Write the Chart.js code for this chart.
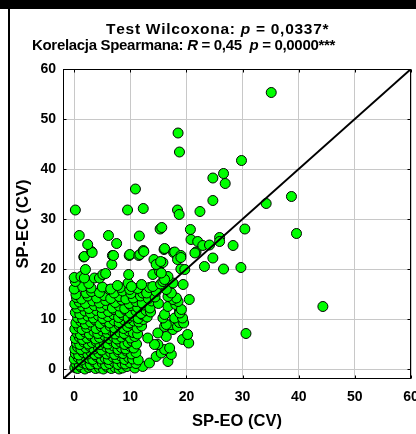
<!DOCTYPE html>
<html lang="pl">
<head>
<meta charset="utf-8">
<title>SP-EO / SP-EC</title>
<script src="https://cdn.jsdelivr.net/npm/chart.js@4.4.1/dist/chart.umd.min.js"></script>
<style>
  html, body { margin: 0; padding: 0; overflow: hidden; background: #fff; }
  #ramka { position: absolute; left: 0; top: 0; width: 416px; height: 434px; overflow: hidden; background: #fff; }
  #pasek { position: absolute; left: 0; top: 0; width: 416px; height: 9px; background: #000; }
  #krawedz { position: absolute; left: 8px; top: 0; width: 2px; height: 434px; background: #000; }
  #wykres { position: absolute; left: 10px; top: 9px; }
</style>
</head>
<body>
<div id="ramka">
  <div id="pasek"></div>
  <div id="krawedz"></div>
  <canvas id="wykres" width="420" height="425"></canvas>
</div>
<script>
// Tytuł (fragmenty: tekst, kursywa)
const tytulLinia1 = [['Test Wilcoxona: ', false], ['p', true], [' = 0,0337*', false]];
const tytulLinia2 = [['Korelacja Spearmana: ', false], ['R', true], [' = 0,45  ', false], ['p', true], [' = 0,0000***', false]];

// Osie
const podzialka = [0, 10, 20, 30, 40, 50, 60];
const zakresOsi = [-2, 60];
const przekatna = [-2, 60];

// Pomiary [SP-EO, SP-EC] - gęste skupisko przy początku układu
const rdzen = [
  [0.1,0.3],[0.6,0.1],[1.2,0.4],[1.9,0.0],[2.6,0.3],[3.1,0.5],[3.8,0.1],[4.5,0.2],[5.2,0.0],[5.9,0.4],[6.6,0.1],[7.3,0.3],[8.0,0.0],[8.6,0.2],[9.4,0.5],[10.8,0.2],[12.2,0.5],[13.4,1.2],
  [0.3,1.1],[0.9,0.8],[1.5,1.3],[2.2,1.0],[2.9,0.9],[3.6,1.4],[4.2,1.0],[5.0,1.2],[5.6,0.8],[6.3,1.1],[7.0,1.5],[7.8,0.9],[8.5,1.2],[9.1,1.0],[9.9,1.3],[11.0,1.1],[14.6,2.5],
  [0.0,2.0],[0.7,2.3],[1.3,1.8],[2.0,2.4],[2.7,2.1],[3.3,1.9],[4.0,2.5],[4.8,2.0],[5.5,2.2],[6.1,1.9],[6.9,2.4],[7.6,2.1],[8.3,2.6],[9.0,1.9],[9.7,2.3],[10.4,2.0],[11.4,1.8],[16.7,1.5],
  [0.2,3.1],[0.8,2.8],[1.6,3.3],[2.4,3.0],[3.0,3.4],[3.7,2.9],[4.4,3.2],[5.1,3.5],[5.8,3.0],[6.5,3.3],[7.2,2.9],[7.9,3.4],[8.7,3.1],[9.3,3.6],[10.2,3.0],[11.0,3.3],[15.5,3.2],[17.3,2.9],
  [0.1,4.0],[0.6,4.4],[1.2,3.9],[2.1,4.2],[2.8,4.5],[3.5,4.0],[4.3,4.3],[4.9,3.8],[5.7,4.4],[6.4,4.1],[7.0,4.6],[7.8,3.9],[8.4,4.3],[9.2,4.0],[10.0,4.5],[10.6,4.2],[16.1,3.9],[17.0,4.2],[14.9,4.9],[14.3,4.9],
  [0.4,5.2],[1.0,4.9],[1.7,5.4],[2.5,5.0],[3.2,5.3],[3.9,5.5],[4.6,4.9],[5.3,5.3],[6.0,5.0],[6.8,5.6],[7.5,5.1],[8.2,5.4],[9.0,4.9],[9.6,5.3],[10.3,5.6],[11.1,5.0],[19.3,5.9],[20.4,5.2],
  [0.2,6.1],[0.9,6.4],[1.5,5.9],[2.3,6.2],[3.0,6.6],[3.8,6.0],[4.5,6.3],[5.4,6.7],[6.2,6.1],[6.9,6.5],[7.6,6.0],[8.4,6.4],[9.2,6.8],[10.0,6.2],[10.8,6.5],[13.1,6.2],[16.4,6.5],[20.2,6.9],
  [0.5,7.2],[1.1,6.9],[1.9,7.4],[2.7,7.0],[3.5,7.5],[4.2,7.1],[5.0,7.6],[5.9,7.2],[6.6,7.7],[7.3,7.0],[8.1,7.4],[8.9,7.1],[9.7,7.6],[10.5,7.3],[11.3,7.0],[14.9,7.2],[17.6,7.9],
  [0.1,8.0],[0.8,8.4],[1.4,7.9],[2.2,8.3],[3.1,8.7],[3.9,8.1],[4.8,8.5],[5.6,8.0],[6.4,8.6],[7.2,8.2],[8.0,8.8],[8.8,8.1],[9.5,8.5],[10.4,8.9],[11.2,8.2],[12.0,8.6],[16.1,8.5],[17.25,8.9],[18.4,8.5],
  [0.3,9.2],[1.2,9.5],[2.0,9.0],[2.9,9.4],[3.7,9.8],[4.6,9.1],[5.5,9.6],[6.3,9.2],[7.1,9.7],[8.0,9.3],[8.9,9.8],[9.8,9.2],[10.6,9.6],[11.5,9.4],[12.3,9.9],[16.4,8.9],[18.75,9.3],[19.5,9.2],
  [0.6,10.3],[1.5,10.0],[2.4,10.6],[3.4,10.2],[4.3,10.7],[5.1,10.1],[6.0,10.5],[7.0,10.9],[7.9,10.3],[8.7,10.8],[9.6,10.2],[10.5,10.6],[11.4,10.1],[12.2,10.8],[13.0,10.4],[15.8,10.2],[17.9,10.2],[19.3,10.2],
  [0.2,11.3],[1.0,11.0],[1.9,11.6],[2.9,11.2],[4.0,11.7],[5.0,11.1],[6.1,11.5],[7.1,11.9],[8.2,11.3],[9.1,11.8],[10.0,11.2],[11.0,11.6],[11.9,11.1],[12.8,11.7],[13.6,11.4],[16.1,10.9],[18.75,11.5],[18.8,11.2],
  [0.5,12.2],[1.4,12.6],[2.6,12.1],[3.6,12.7],[4.8,12.3],[5.8,12.8],[6.8,12.2],[8.0,12.6],[9.0,12.1],[10.1,12.7],[11.3,12.3],[12.4,12.8],[13.5,12.2],[16.7,12.5],[18.1,12.9],[19.1,11.9],
  [0.1,13.0],[0.9,13.4],[2.0,13.1],[3.3,13.6],[4.5,13.2],[5.6,13.7],[7.3,13.3],[8.5,13.8],[9.8,13.1],[11.0,13.5],[12.1,13.2],[13.8,13.6],[15.0,13.1],[18.5,13.5],[20.5,13.9],
  [0.4,14.3],[1.3,14.0],[2.4,14.6],[4.0,14.2],[5.3,14.7],[6.5,14.1],[8.0,14.5],[9.2,14.0],[10.5,14.2],[11.8,14.6],[13.2,14.1],[14.4,14.4],[17.6,13.9],[18.2,14.2],[16.7,14.5]
];

// Środkowy pas (SP-EC ok. 15-24)
const srodek = [
  [0.3,14.9],[2.1,15.2],[3.1,15.5],[4.5,15.3],[6.25,15.9],[7.1,15.2],[8.6,15.6],[10.1,15.1],[12.2,15.2],[12.9,15.2],[14.6,15.5],[17.0,15.5],[17.3,15.2],[16.4,15.9],
  [0.0,16.0],[1.5,16.5],[3.0,16.2],[5.0,16.4],[6.5,16.0],[8.2,16.3],[9.9,15.9],[11.3,16.1],[13.4,16.3],[0.2,17.5],[2.6,17.1],[7.7,16.7],[9.6,17.2],[10.2,16.5],[12.0,16.9],[14.0,16.5],[15.4,17.0],[17.6,17.2],[19.4,16.9],[15.8,17.5],
  [0.0,18.3],[1.2,18.5],[1.8,18.2],[3.6,18.2],[4.5,18.2],[5.1,18.9],[5.6,19.1],[9.7,18.9],[14.0,18.9],[15.2,19.5],[16.7,18.5],[16.1,17.9],[2.0,19.9],[15.5,19.2],[19.0,20.0],[19.7,19.9],
  [1.7,22.4],[1.8,22.5],[3.1,23.5],[3.2,23.3],[2.4,24.9],[6.8,22.7],[6.7,20.9],[7.0,22.7],[9.8,22.7],[9.9,22.9],[11.5,22.7],[11.7,22.9],[12.3,23.7],[12.4,23.5],
  [14.2,21.9],[15.5,21.3],[14.6,20.9],[15.8,21.3],[15.4,21.5],[16.0,23.9],[16.1,24.1],[17.7,23.3],[17.9,23.4],[19.0,22.7],[18.4,21.9],[19.0,22.3],[21.7,23.4],[21.5,23.2]
];

// Punkty rozproszone
const rozproszone = [
  [0.2,31.8],[9.5,31.8],[10.9,36.0],[12.3,32.1],[0.9,26.7],[6.1,26.7],[7.55,25.1],[11.6,26.6],[15.3,28.0],[15.6,28.3],
  [35.1,55.3],[18.5,47.2],[18.75,43.4],[29.8,41.7],[24.7,38.2],[26.6,39.1],[26.9,37.1],[38.7,34.5],[34.2,33.1],[24.7,33.7],
  [18.4,31.8],[18.7,30.9],[22.4,31.5],[30.4,28.0],[39.6,27.1],[20.7,27.9],[20.8,25.9],[22.0,25.5],[22.9,24.7],[24.1,24.8],
  [25.9,26.3],[25.9,25.5],[28.3,24.7],[24.7,22.2],[23.2,20.5],[26.6,20.0],[29.7,20.3],[44.3,12.5],[30.6,7.1]
];

const pomiary = [...rdzen, ...srodek, ...rozproszone].map(([x, y]) => ({ x, y }));

const czcionka = '"Liberation Sans", Arial, sans-serif';

// Tytuł z kursywą dla symboli statystyk; odstęp liter dobierany do szerokości linii
const tytulPlugin = {
  id: 'tytul',
  afterDraw(chart) {
    const ctx = chart.ctx;
    const linie = [
      { fragmenty: tytulLinia1, x: 96, y: 25, rozmiar: 15.5, szerokosc: 222 },
      { fragmenty: tytulLinia2, x: 22, y: 41, rozmiar: 15, szerokosc: 303 }
    ];
    ctx.save();
    ctx.fillStyle = '#000';
    ctx.textBaseline = 'alphabetic';
    linie.forEach(linia => {
      const ustawFont = kursywa => { ctx.font = (kursywa ? 'italic ' : '') + 'bold ' + linia.rozmiar + 'px ' + czcionka; };
      let naturalna = 0, znaki = 0;
      linia.fragmenty.forEach(([tekst, kursywa]) => {
        ustawFont(kursywa);
        naturalna += ctx.measureText(tekst).width;
        znaki += tekst.length;
      });
      const odstep = (linia.szerokosc - naturalna) / znaki;
      let x = linia.x;
      linia.fragmenty.forEach(([tekst, kursywa]) => {
        ustawFont(kursywa);
        for (const znak of tekst) {
          ctx.fillText(znak, x, linia.y);
          x += ctx.measureText(znak).width + odstep;
        }
      });
    });
    ctx.restore();
  }
};

// Ramka obszaru wykresu z krótkimi znacznikami skierowanymi do środka
const ramkaPlugin = {
  id: 'ramka',
  afterDraw(chart) {
    const { left, top, right, bottom } = chart.chartArea;
    const { x: skalaX, y: skalaY } = chart.scales;
    const ctx = chart.ctx;
    const l = Math.round(left) + 0.5, t = Math.round(top) + 0.5;
    const r = Math.round(right) - 0.5, b = Math.round(bottom) - 0.5;
    ctx.save();
    ctx.strokeStyle = '#000';
    ctx.lineWidth = 1;
    ctx.strokeRect(l, t, r - l, b - t);
    ctx.beginPath();
    podzialka.forEach(v => {
      const px = Math.round(skalaX.getPixelForValue(v)) + 0.5;
      const py = Math.round(skalaY.getPixelForValue(v)) + 0.5;
      ctx.moveTo(px, b); ctx.lineTo(px, b - 3);
      ctx.moveTo(px, t); ctx.lineTo(px, t + 3);
      ctx.moveTo(l, py); ctx.lineTo(l + 3, py);
      ctx.moveTo(r, py); ctx.lineTo(r - 3, py);
    });
    ctx.stroke();
    ctx.restore();
  }
};

const ustawPodzialke = scale => { scale.ticks = podzialka.map(v => ({ value: v })); };

new Chart(document.getElementById('wykres'), {
  type: 'scatter',
  data: {
    datasets: [
      {
        type: 'line',
        data: przekatna.map(v => ({ x: v, y: v })),
        borderColor: '#000',
        borderWidth: 2,
        pointRadius: 0,
        fill: false,
        order: 0
      },
      {
        data: pomiary,
        backgroundColor: '#00ff00',
        borderColor: '#000',
        borderWidth: 1,
        pointRadius: 5,
        order: 1
      }
    ]
  },
  options: {
    responsive: false,
    animation: false,
    layout: { padding: { left: 0, right: 19, top: 60, bottom: 0 } },
    plugins: {
      legend: { display: false },
      tooltip: { enabled: false }
    },
    scales: {
      x: {
        type: 'linear',
        min: zakresOsi[0],
        max: zakresOsi[1],
        afterBuildTicks: ustawPodzialke,
        afterFit: s => { s.height = 55; },
        border: { display: false },
        grid: { color: '#c8c8c8', drawTicks: false },
        ticks: { color: '#000', padding: 10, maxRotation: 0, font: { family: czcionka, size: 14, weight: 'bold' } },
        title: { display: true, text: 'SP-EO (CV)', color: '#000', padding: { top: 0, bottom: 3 }, font: { family: czcionka, size: 16.5, weight: 'bold' } }
      },
      y: {
        type: 'linear',
        min: zakresOsi[0],
        max: zakresOsi[1],
        afterBuildTicks: ustawPodzialke,
        afterFit: s => { s.width = 53; },
        border: { display: false },
        grid: { color: '#c8c8c8', drawTicks: false },
        ticks: { color: '#000', padding: 7, font: { family: czcionka, size: 14, weight: 'bold' } },
        title: { display: true, text: 'SP-EC (CV)', color: '#000', padding: { top: 4, bottom: 0 }, font: { family: czcionka, size: 16.5, weight: 'bold' } }
      }
    }
  },
  plugins: [tytulPlugin, ramkaPlugin]
});
</script>
</body>
</html>
